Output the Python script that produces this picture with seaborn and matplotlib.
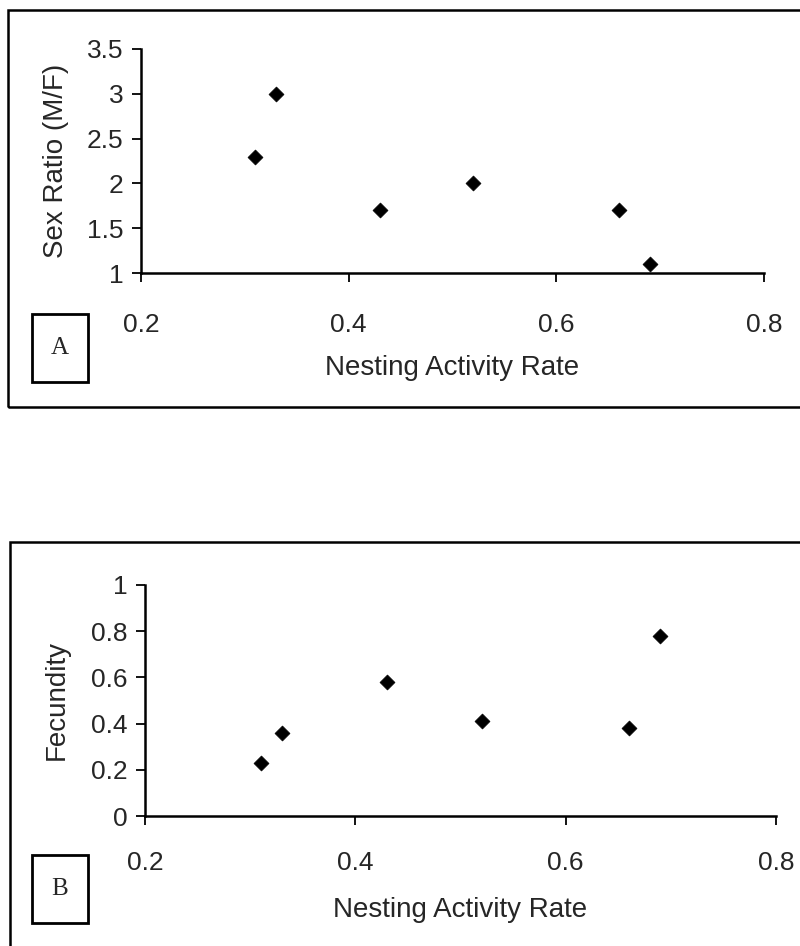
import matplotlib
matplotlib.use("Agg")
import pandas as pd
import seaborn as sns
import matplotlib.pyplot as plt
from matplotlib.patches import Rectangle
from matplotlib.ticker import FormatStrFormatter, FuncFormatter

sns.set_style("white")
plt.rcParams["font.family"] = ["Liberation Sans", "DejaVu Sans"]

# nesting activity rate per site
nesting_rate = [0.31, 0.33, 0.43, 0.52, 0.66, 0.69]
sex_ratio = [2.3, 3.0, 1.7, 2.0, 1.7, 1.1]
nesting_rate_b = [0.31, 0.33, 0.43, 0.52, 0.66, 0.69]
fecundity = [0.23, 0.36, 0.58, 0.41, 0.38, 0.78]

x_ticks = [0.2, 0.4, 0.6, 0.8]
sex_ticks = [1, 1.5, 2, 2.5, 3, 3.5]
fec_ticks = [0, 0.2, 0.4, 0.6, 0.8, 1]

df_a = pd.DataFrame({"rate": nesting_rate, "value": sex_ratio})
df_b = pd.DataFrame({"rate": nesting_rate_b, "value": fecundity})

W, H = 800, 946
fig = plt.figure(figsize=(W / 100, H / 100), dpi=100)


def fx(px):
    return px / W


def fy(py):
    return 1 - py / H


# outer frames of the two panels
fig.add_artist(Rectangle((fx(8), fy(407)), 1, (407 - 10) / H, transform=fig.transFigure,
                         fill=False, lw=1.8, ec="black", clip_on=False))
fig.add_artist(Rectangle((fx(10), fy(960)), 1, (960 - 542) / H, transform=fig.transFigure,
                         fill=False, lw=1.8, ec="black", clip_on=False))


def panel(rect, df, yticks, ylabel, letter, letter_top, xpad, ylab_x, xlab_y):
    ax = fig.add_axes(rect)
    sns.scatterplot(data=df, x="rate", y="value", ax=ax, marker="D", s=58,
                    color="black", edgecolor="black", linewidth=0.5, zorder=3,
                    clip_on=False)
    ax.set_xlim(0.2, 0.8)
    ax.set_ylim(yticks[0], yticks[-1])
    ax.set_xticks(x_ticks)
    ax.set_yticks(yticks)
    ax.xaxis.set_major_formatter(FormatStrFormatter("%.1f"))
    ax.yaxis.set_major_formatter(FuncFormatter(lambda v, p: f"{v:g}"))
    ax.tick_params(axis="x", bottom=True, direction="out", length=6.5, width=1.3,
                   pad=xpad, labelsize=19, color="black")
    ax.tick_params(axis="y", left=True, direction="out", length=6.5, width=1.3,
                   pad=6, labelsize=19, color="black")
    for s in ["top", "right"]:
        ax.spines[s].set_visible(False)
    for s in ["left", "bottom"]:
        ax.spines[s].set_linewidth(1.8)
        ax.spines[s].set_color("black")
    ax.set_xlabel("Nesting Activity Rate", fontsize=20)
    ax.set_ylabel(ylabel, fontsize=20)
    ax.xaxis.set_label_coords(0.5, xlab_y)
    ax.yaxis.set_label_coords(ylab_x, 0.5)
    ax.patch.set_alpha(0)
    # panel letter box
    fig.add_artist(Rectangle((fx(32), fy(letter_top + 68)), 56 / W, 68 / H,
                             transform=fig.transFigure, fill=False, lw=2, ec="black"))
    fig.text(fx(60), fy(letter_top + 34), letter, ha="center", va="center",
             fontsize=18, family="Liberation Serif")
    return ax


panel([fx(141), fy(273), (764 - 141) / W, (273 - 49) / H], df_a, sex_ticks,
      "Sex Ratio (M/F)", "A", 314, 22, -0.116, -0.365)
panel([fx(145), fy(816), (776 - 145) / W, (816 - 585) / H], df_b, fec_ticks,
      "Fecundity", "B", 855, 19, -0.120, -0.352)

fig.savefig("out.png", dpi=100)
